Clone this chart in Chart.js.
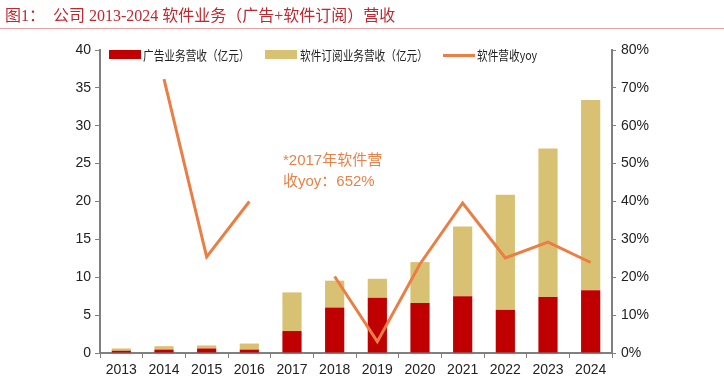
<!DOCTYPE html>
<html>
<head>
<meta charset="utf-8">
<script src="https://cdn.jsdelivr.net/npm/chart.js@4"></script>
<style>
  html, body { margin: 0; padding: 0; background: #fff; }
  #wrap { position: relative; width: 724px; height: 386px; overflow: hidden; }
  #chart { position: absolute; left: 0; top: 0; }
  .title { position: absolute; left: 5px; top: 2px; font: 16px "Liberation Serif", "Noto Sans CJK SC", serif; color: #c0282f; white-space: nowrap; }
  .rule { position: absolute; left: 0; top: 28px; width: 724px; height: 1px; background: #e7a3a3; }
  .legend { position: absolute; top: 45px; font: 13px "Noto Sans CJK SC", sans-serif; color: #222; white-space: nowrap; transform: scaleX(0.82); transform-origin: left center; }
  .box { position: absolute; top: 50px; width: 32px; height: 9px; }
  .note { position: absolute; left: 283px; top: 149px; font: 15px "Liberation Sans", "Noto Sans CJK SC", sans-serif; color: #e8824a; line-height: 21px; white-space: nowrap; }
</style>
</head>
<body>
<div id="wrap">
  <canvas id="chart" width="724" height="386"></canvas>
  <div class="title">图1：&nbsp; 公司 2013-2024 软件业务（广告+软件订阅）营收</div>
  <div class="rule"></div>
  <div class="box" style="left:109px;background:#c00000"></div>
  <div class="legend" style="left:143px">广告业务营收（亿元）</div>
  <div class="box" style="left:265px;background:#d9c173"></div>
  <div class="legend" style="left:300px">软件订阅业务营收（亿元）</div>
  <div class="box" style="left:443px;top:54px;height:3px;background:#ea7e44"></div>
  <div class="legend" style="left:477px">软件营收yoy</div>
  <div class="note">*2017年软件营<br>收yoy：652%</div>
</div>
<script>
const years = ['2013', '2014', '2015', '2016', '2017', '2018', '2019', '2020', '2021', '2022', '2023', '2024'];
// 广告业务营收（亿元）
const adRevenue = [0.3, 0.45, 0.6, 0.45, 2.9, 6.0, 7.3, 6.6, 7.5, 5.7, 7.4, 8.3];
// 软件订阅业务营收（亿元）
const subRevenue = [0.3, 0.45, 0.4, 0.8, 5.1, 3.55, 2.5, 5.4, 9.2, 15.2, 19.6, 25.1];
// 软件营收yoy (%), 2017 (652%) left off the chart
const yoy = [null, 72.3, 25.4, 40.0, null, 20.2, 3.0, 23.5, 39.6, 25.1, 29.3, 23.9];

const axisColor = '#808080';
const tickFont = { family: 'Liberation Sans, Arial, sans-serif', size: 14 };

new Chart(document.getElementById('chart'), {
    type: 'bar',
    data: {
        labels: years,
        datasets: [
            {
                label: '广告业务营收（亿元）',
                data: adRevenue,
                backgroundColor: '#c00000',
                stack: 'rev',
                order: 2
            },
            {
                label: '软件订阅业务营收（亿元）',
                data: subRevenue,
                backgroundColor: '#d9c173',
                stack: 'rev',
                order: 2
            },
            {
                type: 'line',
                label: '软件营收yoy',
                data: yoy,
                yAxisID: 'y1',
                borderColor: '#ea7e44',
                borderWidth: 3,
                pointRadius: 0,
                tension: 0,
                order: 1
            }
        ]
    },
    options: {
        responsive: false,
        animation: false,
        layout: { padding: { top: 50, left: 0, right: 0, bottom: 0 } },
        datasets: { bar: { barPercentage: 0.45, categoryPercentage: 1 } },
        plugins: { legend: { display: false }, tooltip: { enabled: false } },
        scales: {
            x: {
                stacked: true,
                afterFit: s => { s.height = 33; },
                border: { color: axisColor, width: 2 },
                grid: { offset: true, drawOnChartArea: false, tickLength: 5, color: axisColor },
                ticks: { color: '#222', font: tickFont, padding: 4 }
            },
            y: {
                stacked: true,
                min: 0,
                max: 40,
                afterFit: s => { s.width = 100; },
                border: { color: axisColor, width: 2 },
                grid: { drawOnChartArea: false, tickLength: 5, color: axisColor },
                ticks: { stepSize: 5, color: '#222', font: tickFont, padding: 4 }
            },
            y1: {
                position: 'right',
                stacked: false,
                min: 0,
                max: 80,
                afterFit: s => { s.width = 112; },
                border: { color: axisColor, width: 2 },
                grid: { drawOnChartArea: false, tickLength: 4, color: axisColor },
                ticks: { stepSize: 10, color: '#222', font: tickFont, padding: 5, callback: v => v + '%' }
            }
        }
    }
});
</script>
</body>
</html>
